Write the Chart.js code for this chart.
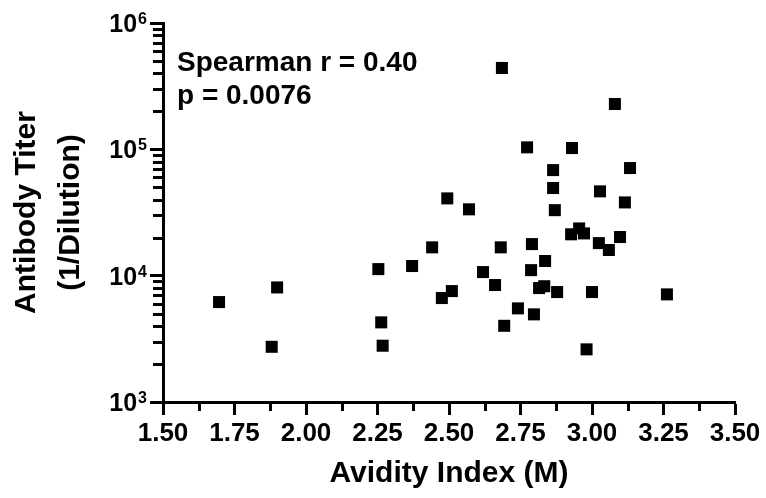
<!DOCTYPE html>
<html><head><meta charset="utf-8">
<script src="https://cdn.jsdelivr.net/npm/chart.js@4/dist/chart.umd.min.js"></script>
<style>html,body{margin:0;padding:0;background:#fff}#wrap{width:766px;height:498px}</style>
</head><body><div id="wrap"><canvas id="c" width="766" height="498"></canvas></div>
<script>
// ---- data ----
const avidity = [1.696, 1.899, 1.880, 2.253, 2.263, 2.268, 2.371, 2.441, 2.494, 2.475, 2.510, 2.570,
  2.773, 2.864, 2.864, 2.870, 2.681, 2.790, 2.930, 3.080, 3.133, 3.028, 3.115, 2.927, 2.955, 2.972,
  3.024, 3.059, 3.098, 2.836, 2.619, 2.787, 2.661, 2.815, 2.833, 2.878, 2.741, 2.797, 2.693, 3.000,
  3.262, 2.981, 2.685];
const titer = [6180, 8070, 2735, 11270, 4270, 2790, 11920, 16760, 40900, 6650, 7550, 33500,
  103700, 68500, 49400, 33000, 16760, 17780, 102400, 228500, 71100, 46500, 38000, 21250, 23650, 21600,
  18100, 15960, 20220, 13060, 10680, 11060, 8430, 7980, 8250, 7420, 5510, 4940, 4010, 7420,
  7110, 2610, 440600];
const xMajorTicks = [1.5, 1.75, 2.0, 2.25, 2.5, 2.75, 3.0, 3.25, 3.5];
const xMinorTicks = [1.625, 1.875, 2.125, 2.375, 2.625, 2.875, 3.125, 3.375];
const yMajorTicks = [1e3, 1e4, 1e5, 1e6];
const yTickBase = '10';
const yTickExponents = ['3', '4', '5', '6'];
const yMinorTicks = [2000, 3000, 4000, 5000, 6000, 7000, 8000, 9000,
  20000, 30000, 40000, 50000, 60000, 70000, 80000, 90000,
  200000, 300000, 400000, 500000, 600000, 700000, 800000, 900000];
const statLines = ['Spearman r = 0.40', 'p = 0.0076'];
const xTitle = 'Avidity Index (M)';
const yTitle = ['Antibody Titer', '(1/Dilution)'];

const FONT = '"Liberation Sans", Arial, sans-serif';

const extras = {
  id: 'extras',
  afterDraw(chart) {
    const ctx = chart.ctx, a = chart.chartArea;
    const xs = chart.scales.x, ys = chart.scales.y;
    ctx.save();
    ctx.strokeStyle = '#000';
    ctx.lineWidth = 3;
    ctx.beginPath();
    xMinorTicks.forEach(v => {
      const p = Math.round(xs.getPixelForValue(v)) + 0.5;
      ctx.moveTo(p, a.bottom); ctx.lineTo(p, a.bottom + 9);
    });
    yMinorTicks.forEach(v => {
      const p = Math.round(ys.getPixelForValue(v)) + 0.5;
      ctx.moveTo(a.left, p); ctx.lineTo(a.left - 10, p);
    });
    ctx.stroke();
    ctx.fillStyle = '#000';
    // y tick labels with superscript exponents
    ctx.textBaseline = 'alphabetic';
    ctx.textAlign = 'left';
    yMajorTicks.forEach((v, i) => {
      const p = ys.getPixelForValue(v);
      ctx.font = 'bold 16px ' + FONT;
      const ew = ctx.measureText(yTickExponents[i]).width;
      const ex = a.left - 16 - ew;
      ctx.fillText(yTickExponents[i], ex, p + 1);
      ctx.font = 'bold 25px ' + FONT;
      const bw = ctx.measureText(yTickBase).width;
      ctx.fillText(yTickBase, ex - 1 - bw, p + 9);
    });
    // statistics annotation
    ctx.font = 'bold 28px ' + FONT;
    ctx.fillText(statLines[0], 177, 71);
    ctx.fillText(statLines[1], 177, 104);
    ctx.restore();
  }
};

new Chart(document.getElementById('c'), {
  type: 'scatter',
  data: {
    datasets: [{
      data: avidity.map((x, i) => ({x: x, y: titer[i]})),
      pointStyle: 'rect',
      pointRadius: 8.5,
      pointHoverRadius: 8.5,
      backgroundColor: '#000',
      borderColor: '#000',
      borderWidth: 0
    }]
  },
  options: {
    responsive: false,
    devicePixelRatio: 1,
    animation: false,
    events: [],
    layout: {padding: {left: 0, right: 31, top: 23, bottom: 0}},
    plugins: {legend: {display: false}, tooltip: {enabled: false}},
    scales: {
      x: {
        type: 'linear',
        min: 1.5, max: 3.5,
        afterBuildTicks: s => { s.ticks = xMajorTicks.map(v => ({value: v})); },
        afterFit: s => { s.height = 96; },
        border: {display: true, width: 3, color: '#000'},
        grid: {drawOnChartArea: false, drawTicks: true, tickLength: 13, tickWidth: 3, tickColor: '#000'},
        ticks: {
          color: '#000', padding: 3, maxRotation: 0, autoSkip: false,
          font: {family: FONT, size: 26, weight: 'bold'},
          callback: v => Number(v).toFixed(2)
        },
        title: {display: true, text: xTitle, color: '#000', padding: {top: 0, bottom: 6},
          font: {family: FONT, size: 30, weight: 'bold', lineHeight: 1.2}}
      },
      y: {
        type: 'logarithmic',
        min: 1000, max: 1000000,
        afterBuildTicks: s => { s.ticks = yMajorTicks.map(v => ({value: v})); },
        afterFit: s => { s.width = 163; },
        border: {display: true, width: 3, color: '#000'},
        grid: {drawOnChartArea: false, drawTicks: true, tickLength: 13, tickWidth: 3, tickColor: '#000'},
        ticks: {display: false},
        title: {display: true, text: yTitle, color: '#000', padding: {top: 5, bottom: 0},
          font: {family: FONT, size: 30, weight: 'bold', lineHeight: 1.45}}
      }
    }
  },
  plugins: [extras]
});
</script></body></html>
